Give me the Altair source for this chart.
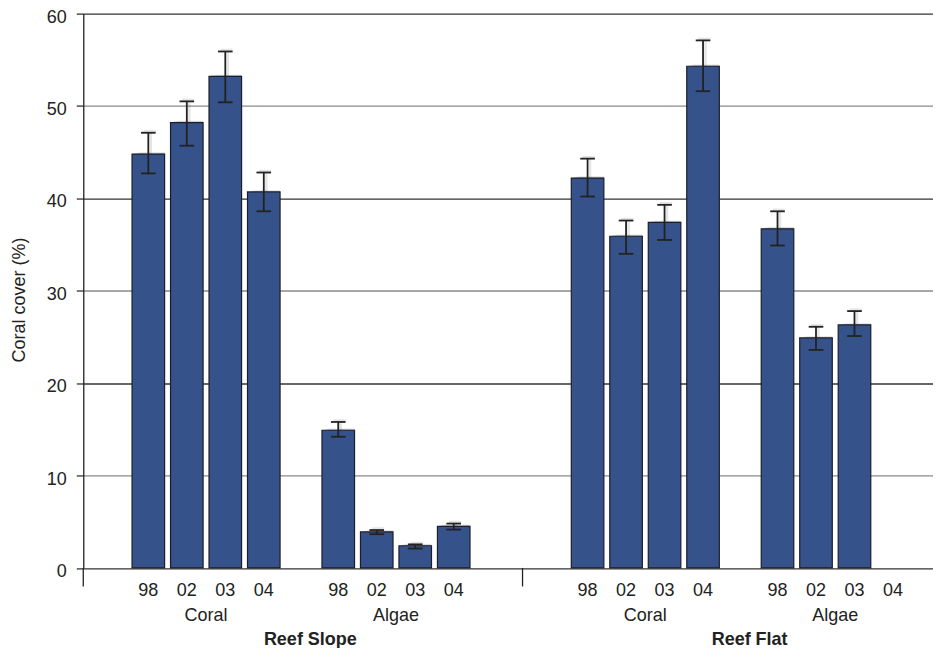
import altair as alt
import pandas as pd

# ---------------- data ----------------
sections = ["Reef Slope", "Reef Flat"]
groups = ["Coral", "Algae"]
years = ["98", "02", "03", "04"]

rs_coral = [44.8, 48.2, 53.2, 40.7]
rs_coral_lo = [42.7, 45.7, 50.4, 38.6]
rs_coral_hi = [47.1, 50.5, 55.9, 42.8]

rs_algae = [14.9, 3.9, 2.4, 4.5]
rs_algae_lo = [14.2, 3.65, 2.1, 4.15]
rs_algae_hi = [15.8, 4.1, 2.55, 4.8]

rf_coral = [42.2, 35.9, 37.4, 54.3]
rf_coral_lo = [40.2, 34.0, 35.5, 51.6]
rf_coral_hi = [44.3, 37.6, 39.3, 57.1]

rf_algae = [36.7, 24.9, 26.3, None]
rf_algae_lo = [34.9, 23.6, 25.1, None]
rf_algae_hi = [38.6, 26.1, 27.8, None]

y_ticks = [0, 10, 20, 30, 40, 50, 60]

# ---------------- layout (in bar-slot units) ----------------
SECTION = 11.413   # width of a section
FIRST = 1.69       # centre of first bar from section start
GROUP = 4.935      # distance between Coral and Algae groups
HALF_BAR = 0.423
CAP = 0.19
PX_PER_UNIT = 38.5
W = 850
H = 554.5
X_MAX = W / PX_PER_UNIT

series = {
    ("Reef Slope", "Coral"): (rs_coral, rs_coral_lo, rs_coral_hi),
    ("Reef Slope", "Algae"): (rs_algae, rs_algae_lo, rs_algae_hi),
    ("Reef Flat", "Coral"): (rf_coral, rf_coral_lo, rf_coral_hi),
    ("Reef Flat", "Algae"): (rf_algae, rf_algae_lo, rf_algae_hi),
}

bar_rows, year_rows, group_rows, sec_rows = [], [], [], []
for s, sec in enumerate(sections):
    sec_rows.append({"label": sec, "pos": s * SECTION + 5.9})
    for g, grp in enumerate(groups):
        base = s * SECTION + FIRST + g * GROUP
        group_rows.append({"label": grp, "pos": base + 1.5})
        vals, los, his = series[(sec, grp)]
        for i, yr in enumerate(years):
            pos = base + i
            year_rows.append({"label": yr, "pos": pos})
            if vals[i] is not None:
                bar_rows.append({
                    "section": sec, "group": grp, "year": yr,
                    "pos": pos, "x1": pos - HALF_BAR, "x2": pos + HALF_BAR,
                    "c1": pos - CAP, "c2": pos + CAP,
                    "value": vals[i], "zero": 0.0, "lo": los[i], "hi": his[i],
                })

bars_df = pd.DataFrame(bar_rows)
years_df = pd.DataFrame(year_rows)
groups_df = pd.DataFrame(group_rows)
secs_df = pd.DataFrame(sec_rows)
sep_df = pd.DataFrame({"pos": [0.0, SECTION]})

xscale = alt.Scale(domain=[0, X_MAX], nice=False, zero=False)
yscale = alt.Scale(domain=[0, 60], nice=False)

yaxis = alt.Axis(
    values=y_ticks, grid=True,
    gridColor={"condition": {"test": "datum.value % 20 === 0", "value": "#333333"},
               "value": "#8a8a8a"},
    gridWidth=1.3,
    domainColor="#222222", domainWidth=1.3,
    tickColor="#222222", tickSize=7, tickWidth=1.2,
    labelFontSize=18, labelColor="#222222", labelPadding=10, labelOffset=3.5,
    title="Coral cover (%)", titleFontSize=18, titleFontWeight="normal",
    titleColor="#222222", titleX=-58.3, titleY=286, titleAngle=270,
    titleBaseline="alphabetic",
)

base = alt.Chart(bars_df)

def bar_layer(mark):
    return base.mark_bar(**mark).encode(
        x=alt.X("x1:Q", scale=xscale, axis=None), x2="x2:Q",
        y=alt.Y("value:Q", scale=yscale, axis=yaxis), y2="zero:Q",
    )

shadow3 = bar_layer(dict(color="#000000", opacity=0.05, xOffset=7, yOffset=-2))
shadow2 = bar_layer(dict(color="#000000", opacity=0.08, xOffset=4.5, yOffset=-1.5))
shadow1 = bar_layer(dict(color="#000000", opacity=0.12, xOffset=2.5, yOffset=-1))
bars = bar_layer(dict(fill="#35528a", stroke="#1c1f2b", strokeWidth=1.2))

def err_layers(color, width, opacity, dx, dy):
    v = base.mark_rule(color=color, strokeWidth=width, opacity=opacity,
                       xOffset=dx, yOffset=dy).encode(
        x=alt.X("pos:Q", scale=xscale, axis=None),
        y=alt.Y("lo:Q", scale=yscale), y2="hi:Q",
    )
    hi = base.mark_rule(color=color, strokeWidth=width, opacity=opacity,
                        xOffset=dx, yOffset=dy).encode(
        x=alt.X("c1:Q", scale=xscale, axis=None), x2="c2:Q",
        y=alt.Y("hi:Q", scale=yscale),
    )
    lo = base.mark_rule(color=color, strokeWidth=width, opacity=opacity,
                        xOffset=dx, yOffset=dy).encode(
        x=alt.X("c1:Q", scale=xscale, axis=None), x2="c2:Q",
        y=alt.Y("lo:Q", scale=yscale),
    )
    return [v, hi, lo]

err_shadow = err_layers("#000000", 2.5, 0.10, 2.5, -1.5)
err = err_layers("#222222", 1.8, 1.0, 0, 0)

seps = alt.Chart(sep_df).mark_rule(color="#222222", strokeWidth=1.3).encode(
    x=alt.X("pos:Q", scale=xscale, axis=None),
    y=alt.value(H), y2=alt.value(H + 18.5),
)
year_text = alt.Chart(years_df).mark_text(
    fontSize=18, color="#222222", baseline="alphabetic", align="center"
).encode(
    x=alt.X("pos:Q", scale=xscale, axis=None), y=alt.value(582.5), text="label:N"
)
group_text = alt.Chart(groups_df).mark_text(
    fontSize=18, color="#222222", baseline="alphabetic", align="center"
).encode(
    x=alt.X("pos:Q", scale=xscale, axis=None), y=alt.value(608), text="label:N"
)
sec_text = alt.Chart(secs_df).mark_text(
    fontSize=18, fontWeight="bold", color="#222222", baseline="alphabetic", align="center"
).encode(
    x=alt.X("pos:Q", scale=xscale, axis=None), y=alt.value(631.5), text="label:N"
)

chart = alt.layer(
    shadow3, shadow2, shadow1, *err_shadow, bars, *err, seps,
    year_text, group_text, sec_text
).properties(
    width=W, height=H,
    autosize=alt.AutoSizeParams(type="none"),
    padding={"left": 75.3, "top": 5.5, "right": 0, "bottom": 80},
).configure(
    font="Liberation Sans"
).configure_view(
    stroke="transparent"
)

chart.save("out.html", embed_options={"renderer": "svg", "actions": False})
